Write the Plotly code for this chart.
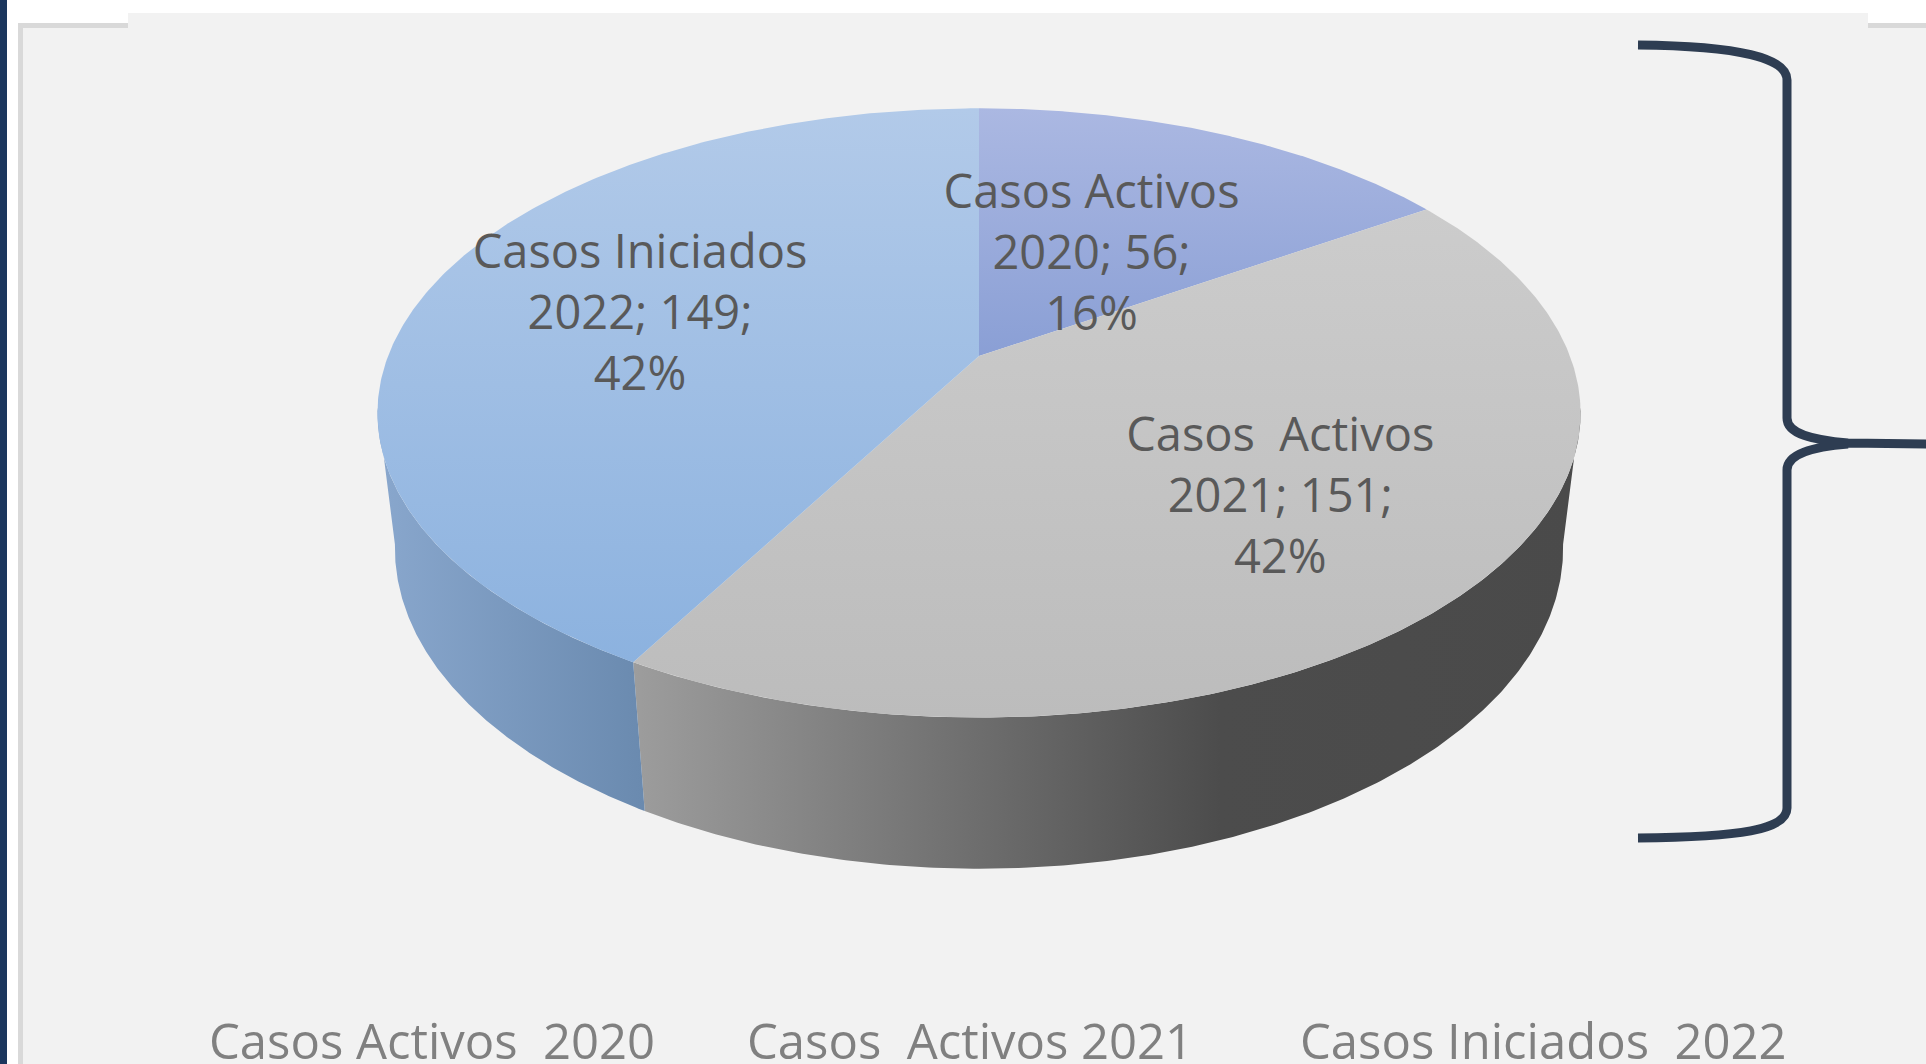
import numpy as np
import plotly.graph_objects as go

# ---------------- data ----------------
categories = ["Casos Activos  2020", "Casos\u00a0 Activos 2021", "Casos Iniciados\u00a0 2022"]
label_names = ["Casos Activos", "Casos\u00a0 Activos", "Casos Iniciados"]
years = ["2020", "2021", "2022"]
values = [56, 151, 149]

# ---------------- style ----------------
top_colors = [("#abb8e2", "#8a9fd5"), ("#cccccc", "#bcbcbc"), ("#b2cae9", "#8cb2df")]
wall_scales = [
    None,
    [[0, "#9d9d9d"], [0.62, "#4c4c4c"], [1, "#4a4a4a"]],
    [[0, "#89a7cd"], [1, "#6a8aaf"]],
]
label_r = [0.43, 0.64, 0.61]
W, H = 1926, 1064
CX, CY = 979, 356          # projected pie centre (px)
ELEV = np.arcsin(294 / 591)  # camera elevation
DIST = 4.64                # camera distance (pie radii)
FOC = 2742                 # focal length (px)
THICK = 0.2686             # pie thickness (pie radii)


def proj(theta, r=1.0, z=0.0):
    """Perspective projection of a point on the pie (z = 0 top, z = -THICK bottom)."""
    X = r * np.sin(theta)
    Y = r * np.cos(theta)
    se, ce = np.sin(ELEV), np.cos(ELEV)
    depth = DIST + Y * ce - z * se
    v = Y * se + z * ce
    return CX + FOC * X / depth, CY - FOC * v / depth


total = float(sum(values))
fracs = [v / total for v in values]
bounds = np.concatenate([[0], np.cumsum(fracs)]) * 2 * np.pi
vis0 = np.arccos(-0.17)
vis1 = 2 * np.pi - vis0

fig = go.Figure()

# side walls
for i in range(len(values)):
    a, b = max(bounds[i], vis0), min(bounds[i + 1], vis1)
    if a >= b:
        continue
    t = np.linspace(a, b, 240)
    xt, yt = proj(t)
    xb, yb = proj(t[::-1], z=-THICK)
    xs = np.concatenate([xt, xb, xt[:1]])
    ys = np.concatenate([yt, yb, yt[:1]])
    fig.add_trace(go.Scatter(
        x=xs, y=ys, mode="lines", fill="toself", line=dict(width=0),
        fillgradient=dict(type="horizontal", colorscale=wall_scales[i],
                          start=float(xs.min()), stop=float(xs.max())),
        hoverinfo="skip", showlegend=False))

# top faces
for i in range(len(values)):
    t = np.linspace(bounds[i], bounds[i + 1], 300)
    xa, ya = proj(t)
    xs = np.concatenate([[CX], xa, [CX]])
    ys = np.concatenate([[CY], ya, [CY]])
    c0, c1 = top_colors[i]
    fig.add_trace(go.Scatter(
        x=xs, y=ys, mode="lines", fill="toself", line=dict(width=0),
        fillgradient=dict(type="vertical", colorscale=[[0, c0], [1, c1]],
                          start=float(ys.min()), stop=float(ys.max())),
        hoverinfo="skip", showlegend=False))

# data labels
mids = (bounds[:-1] + bounds[1:]) / 2
lx, ly = [], []
for i in range(len(values)):
    x, y = proj(mids[i], r=label_r[i])
    lx.append(float(x)); ly.append(float(y) + 5)
texts = [f"{label_names[i]}<br>{years[i]}; {values[i]};<br>{round(100 * fracs[i])}%"
         for i in range(len(values))]
fig.add_trace(go.Scatter(
    x=lx, y=ly, mode="text", text=texts, textposition="middle center",
    textfont=dict(family="Open Sans, Lato, sans-serif", size=47, color="#595959"),
    hoverinfo="skip", showlegend=False))

# legend (bottom, partly cut as in the original)
legend_x = [207, 745, 1298]
for i, name in enumerate(categories):
    fig.add_annotation(x=legend_x[i], y=1040, xref="x", yref="y",
                       text=name.replace("  ", "\u00a0 "),
                       showarrow=False, xanchor="left", yanchor="middle",
                       font=dict(family="Open Sans, Lato, sans-serif",
                                 size=49, color="#808080"))

shapes = [
    dict(type="rect", x0=20.5, y0=25.5, x1=1945, y1=1085, fillcolor="#f2f2f2",
         line=dict(color="#d9d9d9", width=5), layer="below"),
    dict(type="rect", x0=128, y0=13, x1=1868, y1=29, fillcolor="#f2f2f2",
         line=dict(width=0), layer="below"),
    dict(type="rect", x0=0, y0=-5, x1=7, y1=1070, fillcolor="#1b365d",
         line=dict(width=0), layer="below"),
    dict(type="path",
         path=("M 1638,45 C 1740,46 1787,58 1787,80 L 1787,418 "
               "C 1787,434 1812,440 1848,443 L 1932,444 "
               "M 1848,444 C 1812,447 1787,454 1787,470 L 1787,808 "
               "C 1787,830 1740,837 1638,838"),
         line=dict(color="#2e3d52", width=9), layer="above"),
]

fig.update_layout(
    width=W, height=H, margin=dict(l=0, r=0, t=0, b=0),
    paper_bgcolor="white", plot_bgcolor="rgba(0,0,0,0)",
    xaxis=dict(range=[0, W], visible=False, fixedrange=True),
    yaxis=dict(range=[H, 0], visible=False, fixedrange=True),
    shapes=shapes, showlegend=False,
)

fig.write_html("out.html", config={"displayModeBar": False},
               post_script="document.body.style.margin='0';document.body.style.overflow='hidden';")
